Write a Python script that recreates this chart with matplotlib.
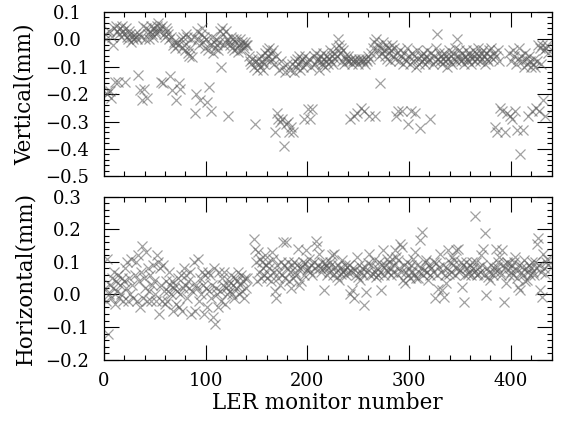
import numpy as np
import matplotlib
matplotlib.use("Agg")
import matplotlib.pyplot as plt
from matplotlib.ticker import MultipleLocator, FuncFormatter

nan = float("nan")

# Vertical offset (mm) per LER monitor 1..440
vertical = [
    0.02, 0.00, -0.20, -0.19, 0.03, -0.19, -0.215, 0.01, -0.02, 0.04,
    -0.155, 0.05, 0.03, -0.155, 0.02, 0.04, 0.01, 0.05, 0.03, 0.02,
    -0.155, 0.04, 0.01, 0.00, 0.03, 0.02, -0.01, 0.01, 0.00, 0.02,
    0.01, 0.00, -0.13, 0.02, -0.185, 0.01, -0.22, 0.05, -0.18, 0.00,
    0.04, -0.215, 0.02, 0.00, 0.03, 0.05, 0.02, 0.01, 0.04, 0.03,
    0.02, 0.05, 0.06, 0.03, 0.04, -0.155, 0.05, -0.16, 0.02, 0.01,
    0.04, 0.03, 0.02, 0.00, -0.135, 0.01, -0.185, -0.02, -0.01, -0.03,
    -0.22, -0.01, -0.02, -0.16, -0.18, 0.00, -0.03, 0.01, -0.02, -0.04,
    0.02, 0.01, -0.05, -0.06, -0.03, 0.00, -0.065, 0.01, -0.27, -0.20,
    0.03, 0.00, -0.02, -0.22, 0.02, 0.04, -0.01, 0.01, -0.03, 0.00,
    -0.23, -0.04, -0.175, -0.02, -0.26, 0.01, -0.05, -0.01, -0.03, 0.00,
    -0.02, -0.04, -0.01, 0.03, -0.10, 0.04, 0.02, -0.02, -0.01, 0.03,
    0.00, -0.28, -0.01, -0.02, 0.01, -0.03, 0.00, -0.04, -0.01, 0.00,
    -0.03, -0.045, -0.02, 0.00, -0.04, -0.01, -0.02, -0.03, -0.01, -0.02,
    -0.02, nan, -0.06, -0.08, -0.09, -0.07, -0.10, -0.31, -0.08, -0.11,
    -0.07, -0.09, -0.10, -0.06, -0.08, -0.11, -0.09, -0.05, -0.07, -0.04,
    -0.06, -0.03, -0.08, -0.05, -0.07, -0.04, -0.09, -0.34, -0.06, -0.27,
    -0.29, -0.11, -0.30, -0.08, -0.29, -0.10, -0.39, -0.12, -0.31, -0.09,
    -0.30, -0.34, -0.11, -0.32, -0.09, -0.34, -0.12, -0.08, -0.10, -0.07,
    -0.09, -0.06, -0.11, -0.08, -0.07, -0.10, -0.29, -0.06, -0.09, -0.08,
    -0.255, -0.07, -0.29, -0.10, -0.255, -0.06, -0.09, -0.05, -0.08, -0.07,
    -0.11, -0.06, -0.08, -0.09, -0.05, -0.07, -0.10, -0.08, -0.06, -0.09,
    -0.07, -0.04, -0.08, -0.06, -0.09, -0.05, -0.07, -0.03, -0.06, 0.00,
    -0.02, -0.05, -0.03, -0.08, -0.04, -0.09, -0.06, -0.07, -0.08, -0.06,
    -0.08, -0.29, -0.07, -0.09, -0.08, -0.28, -0.07, -0.08, -0.27, -0.09,
    -0.07, -0.08, -0.25, -0.07, -0.08, -0.26, -0.09, -0.07, -0.08, -0.06,
    -0.28, -0.07, -0.05, -0.03, -0.01, -0.28, 0.00, -0.04, -0.02, -0.06,
    -0.16, -0.03, -0.05, -0.01, -0.04, -0.06, -0.02, -0.07, -0.03, -0.05,
    -0.08, -0.04, -0.02, -0.06, -0.03, -0.07, -0.28, -0.05, -0.26, -0.08,
    -0.04, -0.06, -0.26, -0.09, -0.05, -0.07, -0.08, -0.03, -0.31, -0.06,
    -0.09, -0.26, -0.05, -0.08, -0.06, -0.27, -0.10, -0.04, -0.07, -0.09,
    -0.325, -0.06, -0.08, -0.05, -0.07, -0.09, -0.06, -0.04, -0.08, -0.07,
    -0.29, -0.05, -0.09, -0.06, -0.08, -0.03, 0.02, -0.07, -0.05, -0.08,
    -0.06, -0.09, -0.07, -0.05, -0.08, -0.06, -0.10, -0.07, -0.04, -0.08,
    -0.06, -0.09, -0.05, -0.07, -0.03, -0.08, 0.00, -0.06, -0.04, -0.07,
    -0.08, -0.05, -0.07, -0.09, -0.06, -0.04, -0.07, -0.08, -0.05, -0.06,
    -0.09, -0.07, -0.04, -0.06, -0.08, -0.05, -0.07, -0.03, -0.06, -0.08,
    -0.05, -0.07, -0.04, -0.06, -0.09, -0.05, -0.07, -0.08, -0.04, -0.06,
    -0.03, -0.07, -0.05, -0.32, -0.06, -0.34, -0.04, -0.08, -0.25, nan,
    -0.26, nan, nan, -0.34, nan, -0.27, nan, -0.05, -0.28, -0.08,
    -0.29, -0.04, -0.06, -0.26, -0.09, -0.33, -0.07, -0.03, -0.42, -0.06,
    -0.08, -0.33, -0.10, -0.05, -0.07, -0.09, -0.28, -0.06, -0.08, -0.10,
    -0.26, -0.09, -0.07, -0.10, -0.25, -0.08, -0.02, -0.26, -0.03, -0.09,
    -0.02, -0.22, -0.04, -0.28, -0.03, -0.02, -0.05, nan, nan, nan,
]

# Horizontal offset (mm) per LER monitor 1..440
horizontal = [
    0.02, -0.02, 0.11, -0.12, 0.00, 0.03, -0.01, 0.05, 0.02, 0.07,
    -0.03, 0.04, 0.01, 0.06, -0.01, 0.03, 0.00, 0.05, -0.02, 0.04,
    0.08, 0.02, 0.10, -0.02, 0.05, 0.00, 0.11, 0.03, -0.01, 0.06,
    0.10, -0.02, 0.12, 0.04, -0.04, 0.07, 0.15, -0.01, 0.05, 0.02,
    0.13, -0.02, 0.08, 0.01, 0.06, -0.02, 0.03, 0.09, 0.04, 0.00,
    -0.02, 0.12, 0.10, -0.06, 0.08, 0.03, -0.02, 0.09, 0.01, -0.03,
    0.04, -0.02, 0.01, 0.07, 0.03, 0.00, 0.04, -0.05, 0.02, 0.03,
    -0.03, 0.01, 0.05, -0.04, 0.00, 0.06, -0.05, 0.02, 0.08, 0.03,
    0.06, -0.01, 0.04, 0.02, 0.07, -0.06, 0.01, 0.10, -0.05, 0.03,
    0.02, 0.11, -0.02, 0.05, 0.00, 0.07, 0.03, -0.06, 0.06, 0.02,
    -0.04, 0.07, 0.01, 0.06, -0.01, 0.03, -0.07, 0.08, -0.09, 0.02,
    0.00, -0.04, 0.07, 0.01, -0.02, 0.05, 0.03, 0.07, -0.03, 0.02,
    0.00, 0.03, 0.04, 0.01, 0.06, 0.00, 0.03, -0.01, 0.05, 0.02,
    0.04, 0.07, 0.00, 0.03, 0.06, 0.01, 0.04, -0.01, 0.05, 0.02,
    0.05, nan, nan, nan, nan, nan, 0.17, 0.14, 0.10, 0.04,
    0.13, 0.07, 0.11, 0.05, 0.10, 0.08, 0.06, 0.12, 0.09, 0.05,
    0.10, 0.08, 0.06, 0.04, 0.13, 0.11, 0.07, 0.01, -0.01, 0.09,
    0.05, 0.07, 0.03, 0.10, 0.06, 0.16, 0.09, 0.05, 0.16, 0.08,
    0.10, 0.04, 0.07, 0.02, 0.09, 0.05, 0.10, 0.07, 0.06, 0.09,
    0.14, 0.03, 0.08, 0.04, 0.085, 0.10, 0.06, 0.095, 0.135, 0.075,
    0.08, 0.11, 0.07, 0.09, 0.06, 0.10, 0.08, 0.165, 0.15, 0.09,
    0.125, 0.08, 0.07, 0.10, 0.08, 0.013, 0.095, 0.09, 0.06, 0.08,
    0.07, 0.10, 0.09, 0.12, 0.06, 0.125, 0.085, 0.07, 0.055, 0.09,
    0.044, 0.08, 0.064, 0.105, 0.07, 0.075, 0.09, 0.06, 0.085, 0.07,
    0.09, 0.00, 0.07, 0.013, 0.08, -0.012, 0.075, 0.06, 0.115, 0.054,
    0.09, 0.044, 0.07, 0.08, 0.06, -0.033, 0.085, 0.008, 0.07, 0.095,
    0.125, 0.06, 0.09, 0.064, 0.105, 0.07, 0.054, 0.08, 0.06, 0.10,
    0.07, 0.013, 0.09, 0.135, 0.06, 0.09, 0.075, 0.11, 0.07, 0.10,
    0.08, 0.06, 0.11, 0.07, 0.09, 0.135, 0.115, 0.064, 0.105, 0.08,
    0.156, 0.07, 0.146, 0.044, 0.09, 0.034, 0.07, 0.10, 0.06, 0.08,
    0.05, 0.09, 0.07, 0.11, 0.06, 0.13, 0.05, 0.09, 0.05, 0.07,
    0.166, 0.08, 0.192, 0.06, 0.075, 0.10, 0.105, 0.07, 0.044, 0.09,
    0.06, 0.08, 0.07, 0.10, -0.012, 0.095, 0.06, 0.018, 0.085, 0.125,
    0.07, 0.013, 0.09, -0.007, 0.06, 0.034, 0.08, 0.135, 0.064, 0.10,
    0.07, 0.115, 0.09, 0.105, 0.06, 0.135, 0.08, 0.14, 0.07, 0.075,
    0.10, 0.023, 0.09, -0.023, 0.06, 0.10, 0.08, 0.064, 0.07, 0.09,
    0.06, 0.10, 0.08, 0.07, 0.24, 0.10, 0.06, 0.064, 0.085, 0.07,
    0.12, 0.09, 0.14, 0.06, 0.19, -0.002, 0.08, 0.054, 0.07, 0.044,
    0.09, 0.06, 0.08, 0.07, 0.14, 0.085, 0.10, 0.115, 0.07, 0.06,
    0.135, 0.09, -0.023, 0.08, 0.034, 0.10, 0.095, 0.06, 0.08, 0.07,
    0.09, 0.06, 0.10, 0.115, 0.075, 0.05, 0.023, 0.09, 0.013, 0.07,
    0.085, 0.06, 0.105, 0.04, 0.08, 0.044, 0.07, 0.09, 0.06, 0.08,
    0.10, 0.07, 0.06, 0.10, 0.08, 0.156, 0.172, 0.09, 0.013, 0.07,
    -0.007, 0.125, 0.08, 0.064, 0.10, 0.11, 0.09, nan, nan, nan,
]

monitor = np.arange(1, len(vertical) + 1)

plt.rcParams['font.family'] = ['DejaVu Serif']
FS_TICK = 13
FS_LABEL = 15.5

fig = plt.figure(figsize=(5.7, 4.21), dpi=100)
W, H = 570.0, 421.0
L, R = 104 / W, 551.5 / W
ax1 = fig.add_axes([L, 1 - 176.3 / H, R - L, (176.3 - 12) / H])
ax2 = fig.add_axes([L, 1 - 359.6 / H, R - L, (359.6 - 196.7) / H])

mk = dict(marker='x', linestyle='none', markersize=7.2, markeredgewidth=0.9,
          color='#555555', alpha=0.55)
ax1.plot(monitor, vertical, **mk)
ax2.plot(monitor, horizontal, **mk)

fmt = FuncFormatter(lambda v, p: f"{v:.1f}".replace('-', '\u2212'))
for ax in (ax1, ax2):
    ax.set_xlim(0, 440)
    ax.xaxis.set_major_locator(MultipleLocator(100))
    ax.xaxis.set_minor_locator(MultipleLocator(20))
    ax.yaxis.set_major_locator(MultipleLocator(0.1))
    ax.yaxis.set_minor_locator(MultipleLocator(0.02))
    ax.yaxis.set_major_formatter(fmt)
    ax.tick_params(which='both', direction='in', top=True, right=True,
                   width=0.8, labelsize=FS_TICK)
    ax.tick_params(which='major', length=11)
    ax.tick_params(which='minor', length=3.6)
    ax.tick_params(axis='y', which='major', pad=26.5)
    ax.tick_params(axis='x', which='major', pad=9)
    for lab in ax.get_yticklabels():
        lab.set_horizontalalignment('center')
    for s in ax.spines.values():
        s.set_linewidth(0.9)

ax1.set_ylim(-0.5, 0.1)
ax2.set_ylim(-0.2, 0.3)
ax1.tick_params(labelbottom=False)

ax1.set_ylabel('Vertical(mm)', fontsize=FS_LABEL)
ax2.set_ylabel('Horizontal(mm)', fontsize=FS_LABEL)
ax2.set_xlabel('LER monitor number', fontsize=FS_LABEL)
ax1.yaxis.set_label_coords(-0.152, 0.5)
ax2.yaxis.set_label_coords(-0.152, 0.5)
ax2.xaxis.set_label_coords(0.5, -0.2)

fig.savefig('out.png', dpi=100)
